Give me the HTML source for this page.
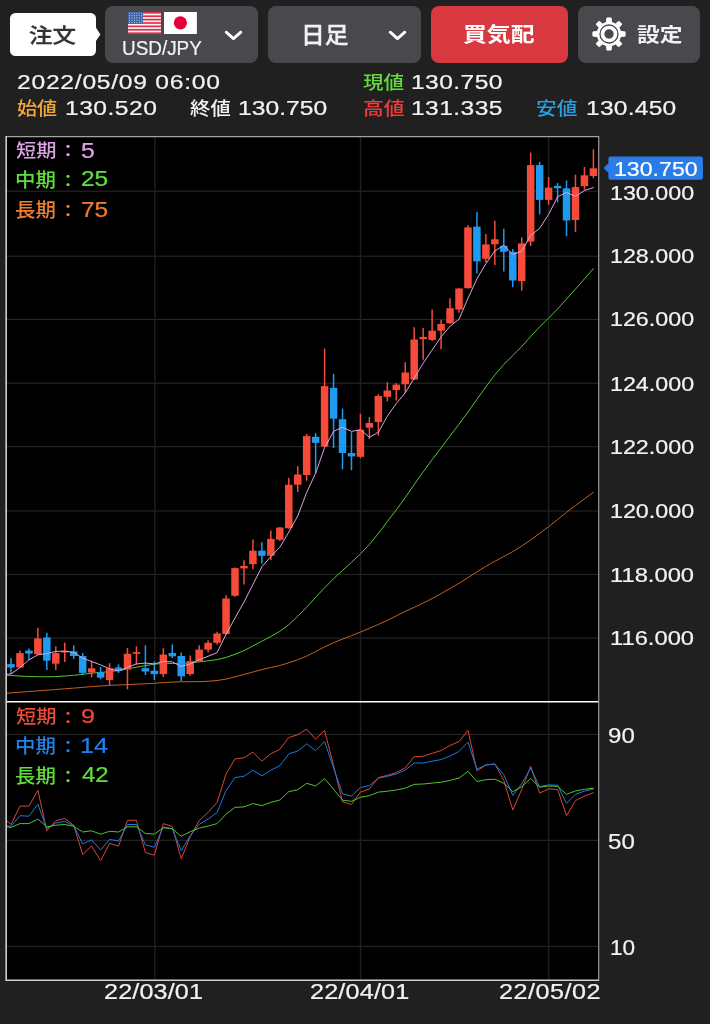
<!DOCTYPE html>
<html lang="ja"><head><meta charset="utf-8"><title>USD/JPY 日足 チャート</title>
<style>
html,body{margin:0;padding:0}
body{width:710px;height:1024px;background:#202020;position:relative;overflow:hidden;font-family:'Liberation Sans','Noto Sans CJK JP',sans-serif}
.abs{position:absolute;display:block}
.chart{position:absolute;left:0;top:0}
.btn{position:absolute;background:#48484d;border-radius:8px}
.btn.order{background:#fff;border-radius:5.5px}
.btn.bid{background:#d8383f}
.t{position:absolute;white-space:nowrap;line-height:1;transform-origin:0 0;display:block}
</style></head>
<body>
<svg class="chart" width="710" height="1024" viewBox="0 0 710 1024">
<defs><clipPath id="cp"><rect x="6.7" y="136.6" width="592.0" height="843.1"/></clipPath></defs>
<rect x="6.7" y="136.6" width="592.0" height="843.1" fill="#000"/>
<g stroke="#2b2b2b" stroke-width="1"><line x1="6.7" x2="598.7" y1="191.2" y2="191.2"/><line x1="6.7" x2="598.7" y1="256.2" y2="256.2"/><line x1="6.7" x2="598.7" y1="319.4" y2="319.4"/><line x1="6.7" x2="598.7" y1="383.2" y2="383.2"/><line x1="6.7" x2="598.7" y1="446.7" y2="446.7"/><line x1="6.7" x2="598.7" y1="511.0" y2="511.0"/><line x1="6.7" x2="598.7" y1="574.4" y2="574.4"/><line x1="6.7" x2="598.7" y1="638.1" y2="638.1"/><line x1="6.7" x2="598.7" y1="734.4" y2="734.4"/><line x1="6.7" x2="598.7" y1="840.3" y2="840.3"/><line x1="6.7" x2="598.7" y1="946.3" y2="946.3"/></g>
<g stroke="#1f1f1f" stroke-width="1.4"><line x1="154.8" x2="154.8" y1="136.6" y2="979.7"/><line x1="360.5" x2="360.5" y1="136.6" y2="979.7"/><line x1="548.6" x2="548.6" y1="136.6" y2="979.7"/></g>
<g clip-path="url(#cp)">
<polyline points="6.8,693.2 11.0,692.9 20.0,692.2 28.9,691.5 37.9,690.9 46.8,690.2 55.8,689.5 64.8,688.8 73.7,688.1 82.7,687.4 91.6,686.6 100.6,686.0 109.6,685.4 118.5,685.0 127.5,684.6 136.4,684.2 145.4,683.8 154.4,683.3 163.3,682.6 172.3,682.1 181.2,681.8 190.2,681.7 199.2,681.6 208.1,681.3 217.1,680.5 226.0,679.1 235.0,676.8 244.0,674.5 252.9,672.0 261.9,669.6 270.8,667.5 279.8,665.5 288.8,662.8 297.7,659.7 306.7,656.1 315.6,651.6 324.6,646.9 333.6,642.7 342.5,639.1 351.5,635.6 360.4,632.1 369.4,628.3 378.4,624.4 387.3,620.3 396.3,615.9 405.2,611.4 414.2,607.3 423.2,603.1 432.1,598.5 441.1,593.6 450.0,588.5 459.0,583.2 468.0,577.6 476.9,571.9 485.9,566.3 494.8,561.3 503.8,556.5 512.8,551.6 521.7,546.1 530.7,539.9 539.6,533.4 548.6,526.6 557.6,519.5 566.5,512.4 575.5,505.5 584.4,498.9 593.4,492.4" fill="none" stroke="#c4611f" stroke-width="1.0" stroke-linejoin="round" stroke-linecap="round" opacity="1"/>
<polyline points="6.8,675.1 11.0,675.5 20.0,676.1 28.9,676.5 37.9,676.7 46.8,676.8 55.8,676.5 64.8,676.0 73.7,675.3 82.7,674.4 91.6,673.2 100.6,672.4 109.6,671.7 118.5,670.5 127.5,668.9 136.4,667.2 145.4,665.6 154.4,664.2 163.3,663.4 172.3,663.4 181.2,663.4 190.2,662.8 199.2,661.9 208.1,660.8 217.1,659.6 226.0,657.4 235.0,654.3 244.0,650.6 252.9,646.0 261.9,641.2 270.8,636.5 279.8,631.3 288.8,624.7 297.7,616.3 306.7,607.2 315.6,597.3 324.6,587.8 333.6,578.7 342.5,570.4 351.5,562.4 360.4,553.9 369.4,544.5 378.4,533.4 387.3,521.6 396.3,509.9 405.2,497.6 414.2,484.6 423.2,471.8 432.1,459.7 441.1,447.9 450.0,436.0 459.0,424.2 468.0,412.0 476.9,399.3 485.9,386.9 494.8,374.9 503.8,364.4 512.8,355.6 521.7,346.5 530.7,336.5 539.6,326.9 548.6,318.1 557.6,308.9 566.5,299.1 575.5,289.1 584.4,278.9 593.4,268.6" fill="none" stroke="#55c62f" stroke-width="1.0" stroke-linejoin="round" stroke-linecap="round" opacity="1"/>
<line x1="11.00" x2="11.00" y1="658.2" y2="673.4" stroke="#1e9bf0" stroke-width="1.5"/>
<rect x="7.25" y="664.1" width="7.5" height="3.4" fill="#1e9bf0"/>
<line x1="19.96" x2="19.96" y1="650.6" y2="667.5" stroke="#f64b38" stroke-width="1.5"/>
<rect x="16.21" y="653.1" width="7.5" height="14.4" fill="#f64b38"/>
<line x1="28.92" x2="28.92" y1="648.5" y2="659.9" stroke="#1e9bf0" stroke-width="1.5"/>
<rect x="25.17" y="650.6" width="7.5" height="3.0" fill="#1e9bf0"/>
<line x1="37.88" x2="37.88" y1="627.7" y2="654.8" stroke="#f64b38" stroke-width="1.5"/>
<rect x="34.13" y="638.4" width="7.5" height="15.9" fill="#f64b38"/>
<line x1="46.84" x2="46.84" y1="632.8" y2="670.0" stroke="#1e9bf0" stroke-width="1.5"/>
<rect x="43.09" y="637.4" width="7.5" height="23.3" fill="#1e9bf0"/>
<line x1="55.80" x2="55.80" y1="646.3" y2="670.0" stroke="#f64b38" stroke-width="1.5"/>
<rect x="52.05" y="653.1" width="7.5" height="10.6" fill="#f64b38"/>
<line x1="64.76" x2="64.76" y1="642.4" y2="662.0" stroke="#f64b38" stroke-width="1.5"/>
<rect x="61.01" y="650.9" width="7.5" height="1.6" fill="#f64b38"/>
<line x1="73.72" x2="73.72" y1="645.2" y2="659.0" stroke="#1e9bf0" stroke-width="1.5"/>
<rect x="69.97" y="651.4" width="7.5" height="4.6" fill="#1e9bf0"/>
<line x1="82.68" x2="82.68" y1="653.1" y2="675.0" stroke="#1e9bf0" stroke-width="1.5"/>
<rect x="78.93" y="656.0" width="7.5" height="16.9" fill="#1e9bf0"/>
<line x1="91.64" x2="91.64" y1="660.7" y2="677.3" stroke="#f64b38" stroke-width="1.5"/>
<rect x="87.89" y="668.3" width="7.5" height="4.2" fill="#f64b38"/>
<line x1="100.60" x2="100.60" y1="667.1" y2="679.3" stroke="#1e9bf0" stroke-width="1.5"/>
<rect x="96.85" y="672.2" width="7.5" height="5.4" fill="#1e9bf0"/>
<line x1="109.56" x2="109.56" y1="663.2" y2="685.2" stroke="#f64b38" stroke-width="1.5"/>
<rect x="105.81" y="668.3" width="7.5" height="11.8" fill="#f64b38"/>
<line x1="118.52" x2="118.52" y1="664.4" y2="673.0" stroke="#1e9bf0" stroke-width="1.5"/>
<rect x="114.77" y="667.5" width="7.5" height="3.2" fill="#1e9bf0"/>
<line x1="127.48" x2="127.48" y1="647.9" y2="689.3" stroke="#f64b38" stroke-width="1.5"/>
<rect x="123.73" y="653.8" width="7.5" height="15.7" fill="#f64b38"/>
<line x1="136.44" x2="136.44" y1="646.2" y2="664.8" stroke="#f64b38" stroke-width="1.5"/>
<rect x="132.69" y="652.1" width="7.5" height="1.7" fill="#f64b38"/>
<line x1="145.40" x2="145.40" y1="645.3" y2="674.9" stroke="#1e9bf0" stroke-width="1.5"/>
<rect x="141.65" y="668.2" width="7.5" height="3.3" fill="#1e9bf0"/>
<line x1="154.36" x2="154.36" y1="661.4" y2="680.0" stroke="#1e9bf0" stroke-width="1.5"/>
<rect x="150.61" y="670.7" width="7.5" height="3.4" fill="#1e9bf0"/>
<line x1="163.32" x2="163.32" y1="648.2" y2="677.0" stroke="#f64b38" stroke-width="1.5"/>
<rect x="159.57" y="654.6" width="7.5" height="19.5" fill="#f64b38"/>
<line x1="172.28" x2="172.28" y1="644.5" y2="658.0" stroke="#1e9bf0" stroke-width="1.5"/>
<rect x="168.53" y="653.0" width="7.5" height="3.3" fill="#1e9bf0"/>
<line x1="181.24" x2="181.24" y1="652.6" y2="681.3" stroke="#1e9bf0" stroke-width="1.5"/>
<rect x="177.49" y="656.0" width="7.5" height="20.3" fill="#1e9bf0"/>
<line x1="190.20" x2="190.20" y1="655.5" y2="675.8" stroke="#f64b38" stroke-width="1.5"/>
<rect x="186.45" y="661.1" width="7.5" height="13.0" fill="#f64b38"/>
<line x1="199.16" x2="199.16" y1="645.3" y2="661.4" stroke="#f64b38" stroke-width="1.5"/>
<rect x="195.41" y="649.6" width="7.5" height="11.5" fill="#f64b38"/>
<line x1="208.12" x2="208.12" y1="640.3" y2="652.6" stroke="#f64b38" stroke-width="1.5"/>
<rect x="204.37" y="642.8" width="7.5" height="6.8" fill="#f64b38"/>
<line x1="217.08" x2="217.08" y1="631.8" y2="644.5" stroke="#f64b38" stroke-width="1.5"/>
<rect x="213.33" y="633.5" width="7.5" height="9.3" fill="#f64b38"/>
<line x1="226.04" x2="226.04" y1="595.2" y2="634.4" stroke="#f64b38" stroke-width="1.5"/>
<rect x="222.29" y="598.5" width="7.5" height="35.5" fill="#f64b38"/>
<line x1="235.00" x2="235.00" y1="567.6" y2="596.8" stroke="#f64b38" stroke-width="1.5"/>
<rect x="231.25" y="568.1" width="7.5" height="27.7" fill="#f64b38"/>
<line x1="243.96" x2="243.96" y1="560.3" y2="584.5" stroke="#f64b38" stroke-width="1.5"/>
<rect x="240.21" y="565.9" width="7.5" height="2.5" fill="#f64b38"/>
<line x1="252.92" x2="252.92" y1="539.4" y2="569.3" stroke="#f64b38" stroke-width="1.5"/>
<rect x="249.17" y="550.7" width="7.5" height="13.5" fill="#f64b38"/>
<line x1="261.88" x2="261.88" y1="542.2" y2="563.4" stroke="#1e9bf0" stroke-width="1.5"/>
<rect x="258.13" y="550.7" width="7.5" height="5.1" fill="#1e9bf0"/>
<line x1="270.84" x2="270.84" y1="530.4" y2="560.0" stroke="#f64b38" stroke-width="1.5"/>
<rect x="267.09" y="538.9" width="7.5" height="16.9" fill="#f64b38"/>
<line x1="279.80" x2="279.80" y1="527.0" y2="540.9" stroke="#f64b38" stroke-width="1.5"/>
<rect x="276.05" y="527.5" width="7.5" height="12.2" fill="#f64b38"/>
<line x1="288.76" x2="288.76" y1="478.0" y2="528.7" stroke="#f64b38" stroke-width="1.5"/>
<rect x="285.01" y="484.8" width="7.5" height="43.4" fill="#f64b38"/>
<line x1="297.72" x2="297.72" y1="466.1" y2="492.1" stroke="#f64b38" stroke-width="1.5"/>
<rect x="293.97" y="474.5" width="7.5" height="10.2" fill="#f64b38"/>
<line x1="306.68" x2="306.68" y1="433.9" y2="480.8" stroke="#f64b38" stroke-width="1.5"/>
<rect x="302.93" y="436.1" width="7.5" height="38.9" fill="#f64b38"/>
<line x1="315.64" x2="315.64" y1="433.1" y2="473.5" stroke="#1e9bf0" stroke-width="1.5"/>
<rect x="311.89" y="436.8" width="7.5" height="6.1" fill="#1e9bf0"/>
<line x1="324.60" x2="324.60" y1="348.6" y2="447.0" stroke="#f64b38" stroke-width="1.5"/>
<rect x="320.85" y="386.1" width="7.5" height="60.5" fill="#f64b38"/>
<line x1="333.56" x2="333.56" y1="373.9" y2="448.0" stroke="#1e9bf0" stroke-width="1.5"/>
<rect x="329.81" y="387.8" width="7.5" height="30.9" fill="#1e9bf0"/>
<line x1="342.52" x2="342.52" y1="408.6" y2="469.4" stroke="#1e9bf0" stroke-width="1.5"/>
<rect x="338.77" y="419.2" width="7.5" height="33.8" fill="#1e9bf0"/>
<line x1="351.48" x2="351.48" y1="432.2" y2="470.3" stroke="#1e9bf0" stroke-width="1.5"/>
<rect x="347.73" y="453.0" width="7.5" height="3.4" fill="#1e9bf0"/>
<line x1="360.44" x2="360.44" y1="413.7" y2="458.1" stroke="#f64b38" stroke-width="1.5"/>
<rect x="356.69" y="429.7" width="7.5" height="27.1" fill="#f64b38"/>
<line x1="369.40" x2="369.40" y1="417.0" y2="439.0" stroke="#f64b38" stroke-width="1.5"/>
<rect x="365.65" y="423.0" width="7.5" height="4.7" fill="#f64b38"/>
<line x1="378.36" x2="378.36" y1="394.2" y2="435.6" stroke="#f64b38" stroke-width="1.5"/>
<rect x="374.61" y="395.9" width="7.5" height="26.2" fill="#f64b38"/>
<line x1="387.32" x2="387.32" y1="382.1" y2="401.3" stroke="#f64b38" stroke-width="1.5"/>
<rect x="383.57" y="390.5" width="7.5" height="6.3" fill="#f64b38"/>
<line x1="396.28" x2="396.28" y1="383.2" y2="400.6" stroke="#f64b38" stroke-width="1.5"/>
<rect x="392.53" y="384.6" width="7.5" height="5.4" fill="#f64b38"/>
<line x1="405.24" x2="405.24" y1="362.2" y2="393.2" stroke="#f64b38" stroke-width="1.5"/>
<rect x="401.49" y="372.5" width="7.5" height="11.8" fill="#f64b38"/>
<line x1="414.20" x2="414.20" y1="327.2" y2="379.9" stroke="#f64b38" stroke-width="1.5"/>
<rect x="410.45" y="339.5" width="7.5" height="40.1" fill="#f64b38"/>
<line x1="423.16" x2="423.16" y1="328.1" y2="359.7" stroke="#f64b38" stroke-width="1.5"/>
<rect x="419.41" y="336.9" width="7.5" height="2.3" fill="#f64b38"/>
<line x1="432.12" x2="432.12" y1="309.6" y2="340.9" stroke="#f64b38" stroke-width="1.5"/>
<rect x="428.37" y="330.7" width="7.5" height="9.2" fill="#f64b38"/>
<line x1="441.08" x2="441.08" y1="319.8" y2="349.2" stroke="#f64b38" stroke-width="1.5"/>
<rect x="437.33" y="324.0" width="7.5" height="6.7" fill="#f64b38"/>
<line x1="450.04" x2="450.04" y1="298.2" y2="323.7" stroke="#f64b38" stroke-width="1.5"/>
<rect x="446.29" y="308.2" width="7.5" height="15.1" fill="#f64b38"/>
<line x1="459.00" x2="459.00" y1="288.2" y2="312.8" stroke="#f64b38" stroke-width="1.5"/>
<rect x="455.25" y="288.5" width="7.5" height="21.1" fill="#f64b38"/>
<line x1="467.96" x2="467.96" y1="224.9" y2="288.5" stroke="#f64b38" stroke-width="1.5"/>
<rect x="464.21" y="227.4" width="7.5" height="60.8" fill="#f64b38"/>
<line x1="476.92" x2="476.92" y1="212.0" y2="273.6" stroke="#1e9bf0" stroke-width="1.5"/>
<rect x="473.17" y="226.7" width="7.5" height="34.6" fill="#1e9bf0"/>
<line x1="485.88" x2="485.88" y1="233.9" y2="262.5" stroke="#f64b38" stroke-width="1.5"/>
<rect x="482.13" y="244.4" width="7.5" height="14.4" fill="#f64b38"/>
<line x1="494.84" x2="494.84" y1="220.7" y2="264.9" stroke="#f64b38" stroke-width="1.5"/>
<rect x="491.09" y="239.3" width="7.5" height="5.0" fill="#f64b38"/>
<line x1="503.80" x2="503.80" y1="228.8" y2="271.4" stroke="#1e9bf0" stroke-width="1.5"/>
<rect x="500.05" y="245.8" width="7.5" height="6.0" fill="#1e9bf0"/>
<line x1="512.76" x2="512.76" y1="249.1" y2="287.2" stroke="#1e9bf0" stroke-width="1.5"/>
<rect x="509.01" y="251.8" width="7.5" height="28.7" fill="#1e9bf0"/>
<line x1="521.72" x2="521.72" y1="237.2" y2="290.8" stroke="#f64b38" stroke-width="1.5"/>
<rect x="517.97" y="243.4" width="7.5" height="37.7" fill="#f64b38"/>
<line x1="530.68" x2="530.68" y1="152.5" y2="246.0" stroke="#f64b38" stroke-width="1.5"/>
<rect x="526.93" y="165.1" width="7.5" height="76.5" fill="#f64b38"/>
<line x1="539.64" x2="539.64" y1="162.0" y2="214.4" stroke="#1e9bf0" stroke-width="1.5"/>
<rect x="535.89" y="165.1" width="7.5" height="34.8" fill="#1e9bf0"/>
<line x1="548.60" x2="548.60" y1="177.1" y2="204.7" stroke="#f64b38" stroke-width="1.5"/>
<rect x="544.85" y="187.6" width="7.5" height="12.3" fill="#f64b38"/>
<line x1="557.56" x2="557.56" y1="183.1" y2="202.4" stroke="#1e9bf0" stroke-width="1.5"/>
<rect x="553.81" y="185.9" width="7.5" height="2.4" fill="#1e9bf0"/>
<line x1="566.52" x2="566.52" y1="180.6" y2="236.3" stroke="#1e9bf0" stroke-width="1.5"/>
<rect x="562.77" y="188.3" width="7.5" height="32.2" fill="#1e9bf0"/>
<line x1="575.48" x2="575.48" y1="174.8" y2="231.9" stroke="#f64b38" stroke-width="1.5"/>
<rect x="571.73" y="187.1" width="7.5" height="32.9" fill="#f64b38"/>
<line x1="584.44" x2="584.44" y1="166.9" y2="189.8" stroke="#f64b38" stroke-width="1.5"/>
<rect x="580.69" y="175.3" width="7.5" height="10.9" fill="#f64b38"/>
<line x1="593.40" x2="593.40" y1="149.3" y2="178.3" stroke="#f64b38" stroke-width="1.5"/>
<rect x="589.65" y="168.3" width="7.5" height="7.7" fill="#f64b38"/>
<polyline points="6.8,674.3 11.0,673.9 20.0,667.5 28.9,659.9 37.9,654.8 46.8,653.6 55.8,651.4 64.8,651.1 73.7,652.3 82.7,658.2 91.6,661.5 100.6,664.9 109.6,668.8 118.5,671.0 127.5,667.3 136.4,663.9 145.4,663.1 154.4,663.9 163.3,661.4 172.3,661.9 181.2,666.5 190.2,663.9 199.2,659.7 208.1,656.3 217.1,652.6 226.0,634.4 235.0,618.0 244.0,602.0 252.9,584.5 261.9,566.8 270.8,556.6 279.8,547.3 288.8,532.1 297.7,516.0 306.7,492.4 315.6,473.2 324.6,447.5 333.6,431.4 342.5,427.2 351.5,431.4 360.4,429.7 369.4,437.3 378.4,432.2 387.3,416.2 396.3,403.5 405.2,392.8 414.2,378.2 423.2,363.2 432.1,350.1 441.1,336.9 450.0,326.3 459.0,319.3 468.0,298.2 476.9,278.9 485.9,263.7 494.8,251.0 503.8,245.3 512.8,254.5 521.7,251.3 530.7,235.4 539.6,228.4 548.6,214.4 557.6,196.8 566.5,192.4 575.5,196.4 584.4,190.6 593.4,187.6" fill="none" stroke="#d8a4e0" stroke-width="1.0" stroke-linejoin="round" stroke-linecap="round" opacity="1"/>
<polyline points="6.7,820.7 11.0,824.5 20.0,806.1 28.9,806.1 37.9,790.3 46.8,830.8 55.8,820.7 64.8,818.5 73.7,825.2 82.7,854.5 91.6,845.9 100.6,860.8 109.6,843.2 118.5,846.2 127.5,820.3 136.4,820.3 145.4,852.6 154.4,855.2 163.3,823.6 172.3,826.5 181.2,858.8 190.2,836.7 199.2,820.5 208.1,812.4 217.1,802.4 226.0,774.0 235.0,758.9 244.0,757.8 252.9,752.2 261.9,761.2 270.8,753.8 279.8,749.3 288.8,737.5 297.7,734.8 306.7,729.0 315.6,739.3 324.6,730.3 333.6,765.7 342.5,801.8 351.5,804.5 360.4,792.1 369.4,788.9 378.4,777.6 387.3,775.4 396.3,772.5 405.2,768.0 414.2,756.7 423.2,756.2 432.1,753.3 441.1,750.6 450.0,745.4 459.0,741.6 468.0,730.3 476.9,770.9 485.9,765.0 494.8,763.9 503.8,780.4 512.8,810.1 521.7,789.4 530.7,766.4 539.6,793.2 548.6,788.9 557.6,789.4 566.5,815.7 575.5,800.6 584.4,796.1 593.4,792.7" fill="none" stroke="#dc4438" stroke-width="1.0" stroke-linejoin="round" stroke-linecap="round" opacity="1"/>
<polyline points="6.7,825.9 11.0,826.3 20.0,815.7 28.9,816.2 37.9,804.3 46.8,828.6 55.8,823.0 64.8,821.4 73.7,825.9 82.7,843.9 91.6,839.9 100.6,850.0 109.6,839.4 118.5,841.0 127.5,824.5 136.4,824.5 145.4,844.7 154.4,847.3 163.3,827.0 172.3,828.8 181.2,850.7 190.2,835.6 199.2,824.3 208.1,819.1 217.1,812.4 226.0,790.5 235.0,777.6 244.0,776.3 252.9,770.2 261.9,775.8 270.8,770.2 279.8,765.7 288.8,753.8 297.7,751.1 306.7,743.8 315.6,750.6 324.6,741.6 333.6,768.0 342.5,793.9 351.5,796.1 360.4,787.6 369.4,785.5 378.4,778.1 387.3,776.3 396.3,774.0 405.2,770.2 414.2,763.0 423.2,763.0 432.1,761.2 441.1,759.6 450.0,756.0 459.0,751.5 468.0,742.0 476.9,769.1 485.9,765.0 494.8,764.1 503.8,774.7 512.8,795.5 521.7,783.7 530.7,768.0 539.6,786.7 548.6,784.9 557.6,785.3 566.5,803.3 575.5,794.3 584.4,791.2 593.4,788.9" fill="none" stroke="#1c7ade" stroke-width="1.0" stroke-linejoin="round" stroke-linecap="round" opacity="1"/>
<polyline points="6.7,826.8 11.0,827.5 20.0,823.6 28.9,823.6 37.9,819.1 46.8,826.8 55.8,825.2 64.8,824.5 73.7,826.3 82.7,832.0 91.6,830.8 100.6,834.2 109.6,831.3 118.5,832.0 127.5,826.8 136.4,826.8 145.4,833.5 154.4,834.1 163.3,827.7 172.3,828.8 181.2,836.2 190.2,831.7 199.2,828.1 208.1,826.1 217.1,823.6 226.0,814.2 235.0,807.4 244.0,806.9 252.9,803.6 261.9,805.6 270.8,802.4 279.8,800.0 288.8,791.6 297.7,789.8 306.7,783.3 315.6,786.0 324.6,778.5 333.6,789.4 342.5,800.2 351.5,801.3 360.4,797.3 369.4,795.7 378.4,792.1 387.3,791.2 396.3,790.0 405.2,788.2 414.2,784.4 423.2,784.0 432.1,783.1 441.1,782.2 450.0,780.4 459.0,778.1 468.0,771.3 476.9,781.5 485.9,779.7 494.8,779.2 503.8,783.3 512.8,791.6 521.7,786.7 530.7,778.5 539.6,787.1 548.6,786.0 557.6,786.4 566.5,794.3 575.5,790.9 584.4,789.4 593.4,788.2" fill="none" stroke="#52c22e" stroke-width="1.0" stroke-linejoin="round" stroke-linecap="round" opacity="1"/>
</g>
<line x1="6.7" x2="598.7" y1="701.8" y2="701.8" stroke="#fff" stroke-width="1.6"/>
<path d="M6.7 136.6 H598.7 V979.7" fill="none" stroke="#a2a2a2" stroke-width="1.1"/>
<path d="M6.2 136.1 V980.2 H599.2" fill="none" stroke="#cfcfcf" stroke-width="1.6"/>
<path d="M603.6 168 L608.4 163.2 L608.4 158.6 Q608.4 156.6 610.4 156.6 L700.9 156.6 Q702.9 156.6 702.9 158.6 L702.9 177.7 Q702.9 179.7 700.9 179.7 L610.4 179.7 Q608.4 179.7 608.4 177.7 L608.4 172.8 Z" fill="#2a7de8"/>
</svg>
<div class="toolbar">
<div class="btn order" style="left:10.1px;top:13.2px;width:85.7px;height:42.6px"><svg class="abs" style="left:83.9px;top:12.8px" width="8" height="18" viewBox="0 0 8 18"><path d="M0 0.6 L1.6 0.9 L6.4 8.4 L1.6 15.6 L0 16 Z" fill="#fff"/></svg><span class="t" style="left:19.36px;top:12.64px;font-size:22.5px;letter-spacing:0.00px;font-weight:500;color:#333333;font-family:'Liberation Sans','Noto Sans CJK JP',sans-serif;-webkit-text-stroke:0.3px #333333;transform:scale(1.0451,0.9202)">注文</span></div>
<div class="btn" style="left:104.6px;top:5.6px;width:153.1px;height:57.3px"><svg class="abs" style="left:23.2px;top:6.1px" width="33.5" height="22.0" viewBox="0 0 33.5 22.0"><rect width="33.5" height="22.0" fill="#f4f4f4"/><rect y="0.00" width="33.5" height="1.69" fill="#e0304a"/><rect y="3.38" width="33.5" height="1.69" fill="#e0304a"/><rect y="6.77" width="33.5" height="1.69" fill="#e0304a"/><rect y="10.15" width="33.5" height="1.69" fill="#e0304a"/><rect y="13.54" width="33.5" height="1.69" fill="#e0304a"/><rect y="16.92" width="33.5" height="1.69" fill="#e0304a"/><rect y="20.31" width="33.5" height="1.69" fill="#e0304a"/><rect width="15.08" height="11.85" fill="#4063a8"/><circle cx="1.50" cy="1.30" r="0.55" fill="#cdd6ea"/><circle cx="3.95" cy="1.30" r="0.55" fill="#cdd6ea"/><circle cx="6.40" cy="1.30" r="0.55" fill="#cdd6ea"/><circle cx="8.85" cy="1.30" r="0.55" fill="#cdd6ea"/><circle cx="11.30" cy="1.30" r="0.55" fill="#cdd6ea"/><circle cx="13.75" cy="1.30" r="0.55" fill="#cdd6ea"/><circle cx="1.50" cy="3.60" r="0.55" fill="#cdd6ea"/><circle cx="3.95" cy="3.60" r="0.55" fill="#cdd6ea"/><circle cx="6.40" cy="3.60" r="0.55" fill="#cdd6ea"/><circle cx="8.85" cy="3.60" r="0.55" fill="#cdd6ea"/><circle cx="11.30" cy="3.60" r="0.55" fill="#cdd6ea"/><circle cx="13.75" cy="3.60" r="0.55" fill="#cdd6ea"/><circle cx="1.50" cy="5.90" r="0.55" fill="#cdd6ea"/><circle cx="3.95" cy="5.90" r="0.55" fill="#cdd6ea"/><circle cx="6.40" cy="5.90" r="0.55" fill="#cdd6ea"/><circle cx="8.85" cy="5.90" r="0.55" fill="#cdd6ea"/><circle cx="11.30" cy="5.90" r="0.55" fill="#cdd6ea"/><circle cx="13.75" cy="5.90" r="0.55" fill="#cdd6ea"/><circle cx="1.50" cy="8.20" r="0.55" fill="#cdd6ea"/><circle cx="3.95" cy="8.20" r="0.55" fill="#cdd6ea"/><circle cx="6.40" cy="8.20" r="0.55" fill="#cdd6ea"/><circle cx="8.85" cy="8.20" r="0.55" fill="#cdd6ea"/><circle cx="11.30" cy="8.20" r="0.55" fill="#cdd6ea"/><circle cx="13.75" cy="8.20" r="0.55" fill="#cdd6ea"/><circle cx="1.50" cy="10.50" r="0.55" fill="#cdd6ea"/><circle cx="3.95" cy="10.50" r="0.55" fill="#cdd6ea"/><circle cx="6.40" cy="10.50" r="0.55" fill="#cdd6ea"/><circle cx="8.85" cy="10.50" r="0.55" fill="#cdd6ea"/><circle cx="11.30" cy="10.50" r="0.55" fill="#cdd6ea"/><circle cx="13.75" cy="10.50" r="0.55" fill="#cdd6ea"/></svg><svg class="abs" style="left:59.5px;top:6.1px" width="32.9" height="22.0" viewBox="0 0 32.9 22.0"><rect width="32.9" height="22.0" fill="#fff"/><circle cx="16.4" cy="10.8" r="6.6" fill="#e60039"/></svg><span class="t" style="left:17.44px;top:31.91px;font-size:20.5px;letter-spacing:0.00px;font-weight:400;color:#f2f2f2;font-family:'Liberation Sans',sans-serif;-webkit-text-stroke:0.22px #f2f2f2;transform:scale(0.9220,1.0286)">USD/JPY</span><svg class="abs" style="left:118.9px;top:22.4px" width="21" height="15" viewBox="0 0 21 15"><path d="M3.2 4.2 L10.5 10.6 L17.8 4.2" fill="none" stroke="#fff" stroke-width="2.9" stroke-linecap="round" stroke-linejoin="round"/></svg></div>
<div class="btn" style="left:267.6px;top:5.6px;width:153.4px;height:57.3px"><span class="t" style="left:33.73px;top:18.40px;font-size:22px;letter-spacing:0.00px;font-weight:500;color:#f2f2f2;font-family:'Liberation Sans','Noto Sans CJK JP',sans-serif;-webkit-text-stroke:0.3px #f2f2f2;transform:scale(1.0815,1.0420)">日足</span><svg class="abs" style="left:119.2px;top:22.4px" width="21" height="15" viewBox="0 0 21 15"><path d="M3.2 4.2 L10.5 10.6 L17.8 4.2" fill="none" stroke="#fff" stroke-width="2.9" stroke-linecap="round" stroke-linejoin="round"/></svg></div>
<div class="btn bid" style="left:431.4px;top:5.6px;width:136.5px;height:57.3px"><span class="t" style="left:31.28px;top:19.62px;font-size:23px;letter-spacing:0.00px;font-weight:700;color:#ffffff;font-family:'Liberation Sans','Noto Sans CJK JP',sans-serif;transform:scale(1.0357,0.8929)">買気配</span></div>
<div class="btn" style="left:578.4px;top:5.6px;width:121.7px;height:57.3px"><svg class="abs" style="left:12.2px;top:10.4px" width="36" height="36" viewBox="0 0 36 36"><path d="M15.46 6.37 L15.90 1.94 L20.10 1.94 L20.54 6.37 L24.43 7.98 L27.87 5.16 L30.84 8.13 L28.02 11.57 L29.63 15.46 L34.06 15.90 L34.06 20.10 L29.63 20.54 L28.02 24.43 L30.84 27.87 L27.87 30.84 L24.43 28.02 L20.54 29.63 L20.10 34.06 L15.90 34.06 L15.46 29.63 L11.57 28.02 L8.13 30.84 L5.16 27.87 L7.98 24.43 L6.37 20.54 L1.94 20.10 L1.94 15.90 L6.37 15.46 L7.98 11.57 L5.16 8.13 L8.13 5.16 L11.57 7.98Z" fill="#fff" stroke="#fff" stroke-width="1.0" stroke-linejoin="round"/><circle cx="18.0" cy="18.0" r="9.0" fill="none" stroke="#48484d" stroke-width="1.3"/><circle cx="18.0" cy="18.0" r="4.7" fill="#48484d"/></svg><span class="t" style="left:59.10px;top:20.87px;font-size:22.5px;letter-spacing:0.00px;font-weight:700;color:#f2f2f2;font-family:'Liberation Sans','Noto Sans CJK JP',sans-serif;transform:scale(1.0113,0.8826)">設定</span></div>
</div>
<div class="overlay">
<div class="info">
<span class="t" style="left:16.50px;top:71.71px;font-size:20.5px;letter-spacing:0.62px;font-weight:400;color:#f2f2f2;font-family:'Liberation Sans',sans-serif;-webkit-text-stroke:0.22px #f2f2f2;transform:scale(1.2018,1.0286)">2022/05/09 06:00</span>
<span class="t" style="left:16.99px;top:100.44px;font-size:20px;letter-spacing:0.00px;font-weight:500;color:#f2a838;font-family:'Liberation Sans','Noto Sans CJK JP',sans-serif;transform:scale(1.0057,0.8925)">始値</span>
<span class="t" style="left:65.18px;top:98.21px;font-size:20.5px;letter-spacing:0.40px;font-weight:400;color:#f2f2f2;font-family:'Liberation Sans',sans-serif;-webkit-text-stroke:0.22px #f2f2f2;transform:scale(1.2012,1.0286)">130.520</span>
<span class="t" style="left:189.75px;top:100.40px;font-size:20px;letter-spacing:0.00px;font-weight:500;color:#f2f2f2;font-family:'Liberation Sans','Noto Sans CJK JP',sans-serif;transform:scale(1.0194,0.8948)">終値</span>
<span class="t" style="left:238.38px;top:98.21px;font-size:20.5px;letter-spacing:0.05px;font-weight:400;color:#f2f2f2;font-family:'Liberation Sans',sans-serif;-webkit-text-stroke:0.22px #f2f2f2;transform:scale(1.1998,1.0286)">130.750</span>
<span class="t" style="left:363.34px;top:74.00px;font-size:20px;letter-spacing:0.00px;font-weight:500;color:#62dc3a;font-family:'Liberation Sans','Noto Sans CJK JP',sans-serif;transform:scale(1.0274,0.8948)">現値</span>
<span class="t" style="left:411.29px;top:71.71px;font-size:20.5px;letter-spacing:0.37px;font-weight:400;color:#f2f2f2;font-family:'Liberation Sans',sans-serif;-webkit-text-stroke:0.22px #f2f2f2;transform:scale(1.1985,1.0286)">130.750</span>
<span class="t" style="left:362.86px;top:100.49px;font-size:20px;letter-spacing:0.00px;font-weight:500;color:#ee3c3c;font-family:'Liberation Sans','Noto Sans CJK JP',sans-serif;transform:scale(1.0395,0.8900)">高値</span>
<span class="t" style="left:411.29px;top:98.21px;font-size:20.5px;letter-spacing:0.37px;font-weight:400;color:#f2f2f2;font-family:'Liberation Sans',sans-serif;-webkit-text-stroke:0.22px #f2f2f2;transform:scale(1.1981,1.0286)">131.335</span>
<span class="t" style="left:536.16px;top:100.49px;font-size:20px;letter-spacing:0.00px;font-weight:500;color:#2a9fdc;font-family:'Liberation Sans','Noto Sans CJK JP',sans-serif;transform:scale(1.0369,0.8900)">安値</span>
<span class="t" style="left:585.59px;top:98.21px;font-size:20.5px;letter-spacing:0.20px;font-weight:400;color:#f2f2f2;font-family:'Liberation Sans',sans-serif;-webkit-text-stroke:0.22px #f2f2f2;transform:scale(1.1985,1.0286)">130.450</span>
</div>
<div class="labels">
<span class="t" style="left:15.53px;top:141.84px;font-size:19.5px;letter-spacing:0.00px;font-weight:500;color:#dca4e4;font-family:'Liberation Sans','Noto Sans CJK JP',sans-serif;transform:scale(1.0378,0.9368)">短期</span>
<span class="t" style="left:58.38px;top:143.49px;font-size:19.5px;letter-spacing:0.00px;font-weight:500;color:#dca4e4;font-family:'Liberation Sans','Noto Sans CJK JP',sans-serif;transform:scale(1.0272,0.8600)">：</span>
<span class="t" style="left:80.82px;top:138.63px;font-size:21.0px;letter-spacing:0.00px;font-weight:400;color:#dca4e4;font-family:'Liberation Sans',sans-serif;-webkit-text-stroke:0.22px #dca4e4;transform:scale(1.1800,1.0429)">5</span>
<span class="t" style="left:15.13px;top:170.58px;font-size:19.5px;letter-spacing:0.00px;font-weight:500;color:#5fe03c;font-family:'Liberation Sans','Noto Sans CJK JP',sans-serif;transform:scale(1.0483,0.9789)">中期</span>
<span class="t" style="left:58.38px;top:172.59px;font-size:19.5px;letter-spacing:0.00px;font-weight:500;color:#5fe03c;font-family:'Liberation Sans','Noto Sans CJK JP',sans-serif;transform:scale(1.0272,0.8600)">：</span>
<span class="t" style="left:80.83px;top:167.43px;font-size:21.0px;letter-spacing:0.00px;font-weight:400;color:#5fe03c;font-family:'Liberation Sans',sans-serif;-webkit-text-stroke:0.22px #5fe03c;transform:scale(1.1652,1.0429)">25</span>
<span class="t" style="left:15.13px;top:200.98px;font-size:19.5px;letter-spacing:0.00px;font-weight:500;color:#f07e30;font-family:'Liberation Sans','Noto Sans CJK JP',sans-serif;transform:scale(1.0485,0.9842)">長期</span>
<span class="t" style="left:58.38px;top:203.04px;font-size:19.5px;letter-spacing:0.00px;font-weight:500;color:#f07e30;font-family:'Liberation Sans','Noto Sans CJK JP',sans-serif;transform:scale(1.0272,0.8600)">：</span>
<span class="t" style="left:80.83px;top:197.73px;font-size:21.0px;letter-spacing:0.00px;font-weight:400;color:#f07e30;font-family:'Liberation Sans',sans-serif;-webkit-text-stroke:0.22px #f07e30;transform:scale(1.1652,1.0429)">75</span>
<span class="t" style="left:15.53px;top:707.76px;font-size:19.5px;letter-spacing:0.00px;font-weight:500;color:#f04a3a;font-family:'Liberation Sans','Noto Sans CJK JP',sans-serif;transform:scale(1.0378,0.9579)">短期</span>
<span class="t" style="left:58.38px;top:709.59px;font-size:19.5px;letter-spacing:0.00px;font-weight:500;color:#f04a3a;font-family:'Liberation Sans','Noto Sans CJK JP',sans-serif;transform:scale(1.0272,0.8600)">：</span>
<span class="t" style="left:80.77px;top:705.91px;font-size:20.5px;letter-spacing:0.00px;font-weight:400;color:#f04a3a;font-family:'Liberation Sans',sans-serif;-webkit-text-stroke:0.22px #f04a3a;transform:scale(1.2290,1.0286)">9</span>
<span class="t" style="left:15.13px;top:736.98px;font-size:19.5px;letter-spacing:0.00px;font-weight:500;color:#1e82ee;font-family:'Liberation Sans','Noto Sans CJK JP',sans-serif;transform:scale(1.0483,0.9789)">中期</span>
<span class="t" style="left:58.38px;top:738.99px;font-size:19.5px;letter-spacing:0.00px;font-weight:500;color:#1e82ee;font-family:'Liberation Sans','Noto Sans CJK JP',sans-serif;transform:scale(1.0272,0.8600)">：</span>
<span class="t" style="left:80.33px;top:734.03px;font-size:21.0px;letter-spacing:0.05px;font-weight:400;color:#1e82ee;font-family:'Liberation Sans',sans-serif;-webkit-text-stroke:0.22px #1e82ee;transform:scale(1.2030,1.0429)">14</span>
<span class="t" style="left:15.13px;top:766.58px;font-size:19.5px;letter-spacing:0.00px;font-weight:500;color:#62dc3a;font-family:'Liberation Sans','Noto Sans CJK JP',sans-serif;transform:scale(1.0485,0.9789)">長期</span>
<span class="t" style="left:58.38px;top:768.59px;font-size:19.5px;letter-spacing:0.00px;font-weight:500;color:#62dc3a;font-family:'Liberation Sans','Noto Sans CJK JP',sans-serif;transform:scale(1.0272,0.8600)">：</span>
<span class="t" style="left:81.71px;top:763.43px;font-size:21.0px;letter-spacing:0.00px;font-weight:400;color:#62dc3a;font-family:'Liberation Sans',sans-serif;-webkit-text-stroke:0.22px #62dc3a;transform:scale(1.1427,1.0429)">42</span>
<span class="t" style="left:610.07px;top:182.51px;font-size:20.5px;letter-spacing:0.00px;font-weight:400;color:#f2f2f2;font-family:'Liberation Sans',sans-serif;-webkit-text-stroke:0.22px #f2f2f2;transform:scale(1.1344,1.0286)">130.000</span>
<span class="t" style="left:610.07px;top:246.11px;font-size:20.5px;letter-spacing:0.00px;font-weight:400;color:#f2f2f2;font-family:'Liberation Sans',sans-serif;-webkit-text-stroke:0.22px #f2f2f2;transform:scale(1.1344,1.0286)">128.000</span>
<span class="t" style="left:610.07px;top:309.31px;font-size:20.5px;letter-spacing:0.00px;font-weight:400;color:#f2f2f2;font-family:'Liberation Sans',sans-serif;-webkit-text-stroke:0.22px #f2f2f2;transform:scale(1.1344,1.0286)">126.000</span>
<span class="t" style="left:610.07px;top:373.51px;font-size:20.5px;letter-spacing:0.00px;font-weight:400;color:#f2f2f2;font-family:'Liberation Sans',sans-serif;-webkit-text-stroke:0.22px #f2f2f2;transform:scale(1.1344,1.0286)">124.000</span>
<span class="t" style="left:610.07px;top:437.11px;font-size:20.5px;letter-spacing:0.00px;font-weight:400;color:#f2f2f2;font-family:'Liberation Sans',sans-serif;-webkit-text-stroke:0.22px #f2f2f2;transform:scale(1.1344,1.0286)">122.000</span>
<span class="t" style="left:610.07px;top:501.11px;font-size:20.5px;letter-spacing:0.00px;font-weight:400;color:#f2f2f2;font-family:'Liberation Sans',sans-serif;-webkit-text-stroke:0.22px #f2f2f2;transform:scale(1.1344,1.0286)">120.000</span>
<span class="t" style="left:610.04px;top:564.61px;font-size:20.5px;letter-spacing:0.00px;font-weight:400;color:#f2f2f2;font-family:'Liberation Sans',sans-serif;-webkit-text-stroke:0.22px #f2f2f2;transform:scale(1.1578,1.0286)">118.000</span>
<span class="t" style="left:610.04px;top:628.31px;font-size:20.5px;letter-spacing:0.00px;font-weight:400;color:#f2f2f2;font-family:'Liberation Sans',sans-serif;-webkit-text-stroke:0.22px #f2f2f2;transform:scale(1.1578,1.0286)">116.000</span>
<span class="t" style="left:613.88px;top:158.56px;font-size:20.5px;letter-spacing:0.00px;font-weight:400;color:#ffffff;font-family:'Liberation Sans',sans-serif;-webkit-text-stroke:0.22px #ffffff;transform:scale(1.1288,1.0143)">130.750</span>
<span class="t" style="left:608.25px;top:724.23px;font-size:21.0px;letter-spacing:0.00px;font-weight:400;color:#f2f2f2;font-family:'Liberation Sans',sans-serif;-webkit-text-stroke:0.22px #f2f2f2;transform:scale(1.1470,1.0429)">90</span>
<span class="t" style="left:608.25px;top:829.93px;font-size:21.0px;letter-spacing:0.00px;font-weight:400;color:#f2f2f2;font-family:'Liberation Sans',sans-serif;-webkit-text-stroke:0.22px #f2f2f2;transform:scale(1.1470,1.0429)">50</span>
<span class="t" style="left:609.80px;top:936.13px;font-size:21.0px;letter-spacing:0.00px;font-weight:400;color:#f2f2f2;font-family:'Liberation Sans',sans-serif;-webkit-text-stroke:0.22px #f2f2f2;transform:scale(1.0791,1.0429)">10</span>
<span class="t" style="left:103.50px;top:980.43px;font-size:21.0px;letter-spacing:0.12px;font-weight:400;color:#f2f2f2;font-family:'Liberation Sans',sans-serif;-webkit-text-stroke:0.22px #f2f2f2;transform:scale(1.1976,1.0429)">22/03/01</span>
<span class="t" style="left:309.60px;top:980.43px;font-size:21.0px;letter-spacing:0.14px;font-weight:400;color:#f2f2f2;font-family:'Liberation Sans',sans-serif;-webkit-text-stroke:0.22px #f2f2f2;transform:scale(1.2001,1.0429)">22/04/01</span>
<span class="t" style="left:498.50px;top:980.43px;font-size:21.0px;letter-spacing:0.42px;font-weight:400;color:#f2f2f2;font-family:'Liberation Sans',sans-serif;-webkit-text-stroke:0.22px #f2f2f2;transform:scale(1.1994,1.0429)">22/05/02</span>
</div>
</div>
</body></html>
